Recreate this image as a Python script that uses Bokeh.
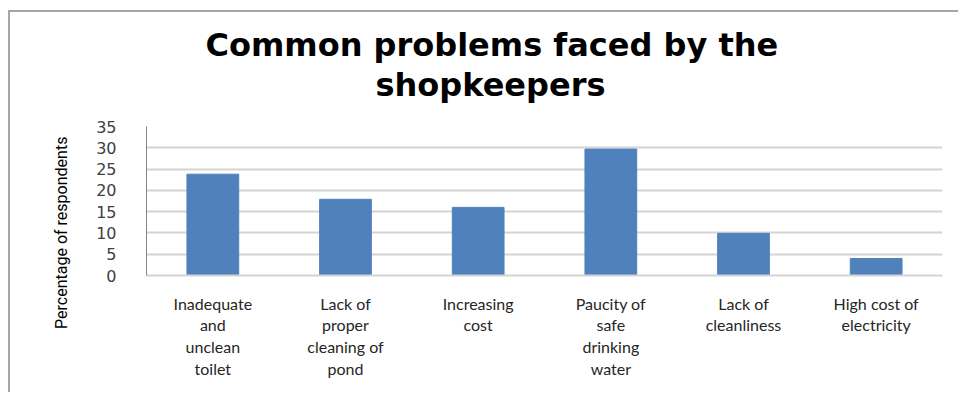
from bokeh.plotting import figure
from bokeh.models import ColumnDataSource, FixedTicker, Title
from bokeh.embed import file_html
from bokeh.resources import INLINE

title_lines = ["Common problems faced by the", "shopkeepers"]
y_label = "Percentage of respondents"
categories = ["Inadequate\nand\nunclean\ntoilet", "Lack of\nproper\ncleaning of\npond",
              "Increasing\ncost", "Paucity of\nsafe\ndrinking\nwater",
              "Lack of\ncleanliness", "High cost of\nelectricity"]
values = [23.8, 17.9, 16.0, 29.7, 9.9, 4.0]
y_ticks = [0, 5, 10, 15, 20, 25, 30, 35]

src = ColumnDataSource(dict(cat=categories, val=values))

p = figure(x_range=categories, y_range=(0, 35), width=950, height=382,
           output_backend="svg", toolbar_location=None,
           min_border_left=136, min_border_right=18, min_border_top=114,
           min_border_bottom=119, margin=(10, 0, 0, 8),
           styles={"border-top": "2px solid #a6a6a6",
                   "border-left": "2px solid #a6a6a6"})
p.outline_line_color = None
p.background_fill_color = "white"
p.border_fill_color = "white"

title_font = dict(text_font="DejaVu Sans", text_font_style="bold",
                  text_font_size="32px", text_color="black", align="left")
# spacer between the title block and the plot frame
p.add_layout(Title(text=" ", text_font_size="1px", standoff=20), "above")
p.add_layout(Title(text=title_lines[1], offset=229, standoff=0, **title_font), "above")
p.add_layout(Title(text=title_lines[0], offset=59, standoff=0, **title_font), "above")

p.vbar(x="cat", top="val", width=0.39, source=src, fill_color="#4F81BD",
       line_color="#4F81BD")

p.xgrid.grid_line_color = None
p.ygrid.grid_line_color = "#d4d4d4"
p.ygrid.grid_line_width = 2
p.yaxis.ticker = FixedTicker(ticks=y_ticks)
p.yaxis.axis_line_color = "#868686"
p.yaxis.major_tick_line_color = None
p.yaxis.minor_tick_line_color = None
p.yaxis.major_label_text_font = "DejaVu Sans"
p.yaxis.major_label_text_font_size = "16px"
p.yaxis.major_label_text_color = "#404040"
p.yaxis.major_label_standoff = 24
p.yaxis.axis_label = y_label + "\u00a0" * 16
p.yaxis.axis_label_text_font = "Roboto"
p.yaxis.axis_label_text_font_size = "16px"
p.yaxis.axis_label_text_font_style = "normal"
p.yaxis.axis_label_text_color = "#000000"
p.yaxis.axis_label_standoff = 22

p.xaxis.axis_line_color = "#d4d4d4"
p.xaxis.axis_line_width = 2
p.xaxis.major_tick_line_color = None
p.xaxis.minor_tick_line_color = None
p.xaxis.major_label_text_font = "Lato"
p.xaxis.major_label_text_font_size = "16px"
p.xaxis.major_label_text_color = "#262626"
p.xaxis.major_label_text_line_height = 1.15
p.xaxis.major_label_standoff = 12

open("out.html", "w").write(file_html(p, INLINE))
